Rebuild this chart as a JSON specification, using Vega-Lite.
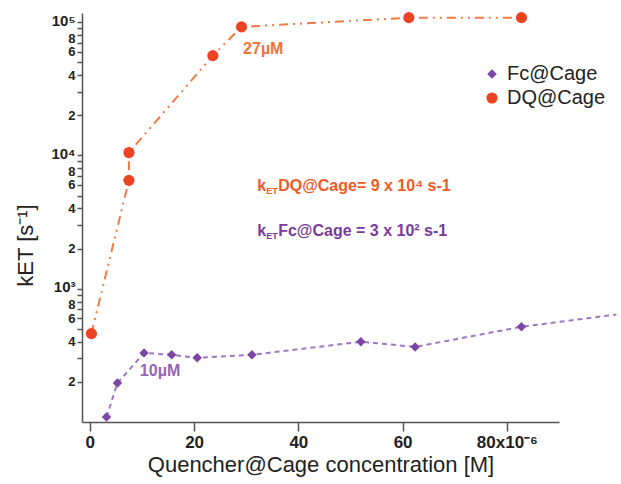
{
  "$schema": "https://vega.github.io/schema/vega-lite/v6.json",
  "width": 477,
  "height": 409,
  "autosize": {"type": "none"},
  "padding": {"left": 82, "top": 13, "right": 62, "bottom": 62},
  "background": "white",
  "config": {
    "view": {"stroke": null},
    "font": "Liberation Sans",
    "axis": {"grid": false, "domainColor": "#555555", "domainWidth": 1.5, "tickColor": "#555555", "tickWidth": 1.5, "labelColor": "#222222", "titleColor": "#222222", "labelFont": "Liberation Sans", "titleFont": "Liberation Sans"}
  },
  "datasets": {
    "pts": [
      {"series": "DQ@Cage", "x": 0.3, "k": 460, "m": 1},
      {"series": "DQ@Cage", "x": 7.5, "k": 6500, "m": 1},
      {"series": "DQ@Cage", "x": 7.5, "k": 10500, "m": 1},
      {"series": "DQ@Cage", "x": 23.6, "k": 56000, "m": 1},
      {"series": "DQ@Cage", "x": 29.1, "k": 92000, "m": 1},
      {"series": "DQ@Cage", "x": 61.2, "k": 108000, "m": 1},
      {"series": "DQ@Cage", "x": 82.8, "k": 108000, "m": 1},
      {"series": "Fc@Cage", "x": 3.2, "k": 109, "m": 1},
      {"series": "Fc@Cage", "x": 5.3, "k": 196, "m": 1},
      {"series": "Fc@Cage", "x": 10.4, "k": 330, "m": 1},
      {"series": "Fc@Cage", "x": 15.7, "k": 319, "m": 1},
      {"series": "Fc@Cage", "x": 20.6, "k": 303, "m": 1},
      {"series": "Fc@Cage", "x": 31.1, "k": 319, "m": 1},
      {"series": "Fc@Cage", "x": 52.0, "k": 400, "m": 1},
      {"series": "Fc@Cage", "x": 62.4, "k": 366, "m": 1},
      {"series": "Fc@Cage", "x": 82.8, "k": 518, "m": 1},
      {"series": "Fc@Cage", "x": 101, "k": 640, "m": 0}
    ],
    "notes": [
      {"series": "DQ@Cage", "x": 29.4, "k": 62700, "text": "27µM"},
      {"series": "Fc@Cage", "x": 9.6, "k": 242, "text": "10µM"}
    ],
    "rates": [
      {"series": "DQ@Cage", "x": 32.1, "k": 5850, "text": "DQ@Cage= 9 x 10⁴ s-1"},
      {"series": "Fc@Cage", "x": 32.1, "k": 2730, "text": "Fc@Cage = 3 x 10² s-1"}
    ]
  },
  "encoding": {
    "x": {"field": "x", "type": "quantitative",
      "scale": {"domain": [-1.5, 90], "nice": false, "zero": false},
      "axis": {"values": [0, 20, 40, 60, 80], "labelExpr": "datum.value == 80 ? '80x10⁻⁶' : datum.label", "tickSize": 9, "labelPadding": 3, "labelFontSize": 17, "labelFontWeight": "bold", "title": "Quencher@Cage concentration [M]", "titleFontSize": 22, "titleFontWeight": "normal", "titlePadding": 4}},
    "y": {"field": "k", "type": "quantitative",
      "scale": {"type": "log", "domain": [100, 117000], "nice": false},
      "axis": {"values": [200, 300, 400, 500, 600, 700, 800, 900, 1000, 2000, 3000, 4000, 5000, 6000, 7000, 8000, 9000, 10000, 20000, 30000, 40000, 50000, 60000, 70000, 80000, 90000, 100000],
        "labelExpr": "datum.value == 100000 ? '10⁵' : datum.value == 10000 ? '10⁴' : datum.value == 1000 ? '10³' : (round(datum.value / pow(10, floor(log(datum.value) / LN10 + 1e-6))) % 2 == 0 ? '' + round(datum.value / pow(10, floor(log(datum.value) / LN10 + 1e-6))) : '')",
        "tickSize": 5, "labelPadding": 2,
        "labelFontSize": {"condition": {"test": "datum.value == 100000 || datum.value == 10000 || datum.value == 1000", "value": 15}, "value": 13},
        "labelOffset": {"condition": [
          {"test": "datum.value == 100000 || datum.value == 10000 || datum.value == 1000", "value": -2},
          {"test": "round(datum.value / pow(10, floor(log(datum.value) / LN10 + 1e-6))) == 8", "value": 3}
        ], "value": 0},
        "labelFontWeight": "bold", "labelOverlap": false, "labelFlush": false,
        "title": "kET [s⁻¹]", "titleFontSize": 22, "titleFontWeight": "normal", "titleX": -45, "titleY": 232}}
  },
  "layer": [
    {
      "data": {"name": "pts"},
      "transform": [{"filter": "datum.series == 'DQ@Cage'"}],
      "mark": {"type": "line", "clip": false, "color": "#f27a45", "strokeWidth": 2, "strokeDash": [9, 5, 2, 5, 2, 5]},
      "encoding": {}
    },
    {
      "data": {"name": "pts"},
      "transform": [{"filter": "datum.series == 'Fc@Cage'"}],
      "mark": {"type": "line", "clip": false, "color": "#9e78c4", "strokeWidth": 2, "strokeDash": [5, 4]},
      "encoding": {}
    },
    {
      "data": {"name": "pts"},
      "transform": [{"filter": "datum.m == 1"}],
      "mark": {"type": "point", "filled": true, "opacity": 1, "clip": false},
      "encoding": {
        "color": {"field": "series", "type": "nominal",
          "scale": {"domain": ["Fc@Cage", "DQ@Cage"], "range": ["#7d45a6", "#ee4322"]},
          "legend": {"title": null, "orient": "none", "legendX": 400, "legendY": 51, "padding": 0, "labelFontSize": 20, "labelFont": "Liberation Sans", "labelColor": "#222222", "labelOffset": 5, "rowPadding": 4, "symbolSize": 110, "symbolStrokeWidth": 0}},
        "shape": {"field": "series", "type": "nominal",
          "scale": {"domain": ["Fc@Cage", "DQ@Cage"], "range": ["diamond", "circle"]}},
        "size": {"field": "series", "type": "nominal",
          "scale": {"domain": ["Fc@Cage", "DQ@Cage"], "range": [90, 125]}, "legend": null}
      }
    },
    {
      "data": {"name": "notes"},
      "mark": {"type": "text", "align": "left", "baseline": "middle", "fontSize": 16, "fontWeight": "bold", "font": "Liberation Sans"},
      "encoding": {
        "text": {"field": "text"},
        "color": {"condition": {"test": "datum.series == 'DQ@Cage'", "value": "#f0743a"}, "value": "#9565b8"}
      }
    },
    {
      "data": {"name": "rates"},
      "mark": {"type": "text", "align": "left", "baseline": "middle", "fontSize": 16, "fontWeight": "bold", "font": "Liberation Sans"},
      "encoding": {
        "text": {"value": "k"},
        "color": {"condition": {"test": "datum.series == 'DQ@Cage'", "value": "#f05a28"}, "value": "#7b3b9c"}
      }
    },
    {
      "data": {"name": "rates"},
      "mark": {"type": "text", "align": "left", "baseline": "middle", "fontSize": 9, "fontWeight": "bold", "font": "Liberation Sans", "dx": 9, "dy": 5},
      "encoding": {
        "text": {"value": "ET"},
        "color": {"condition": {"test": "datum.series == 'DQ@Cage'", "value": "#f05a28"}, "value": "#7b3b9c"}
      }
    },
    {
      "data": {"name": "rates"},
      "mark": {"type": "text", "align": "left", "baseline": "middle", "fontSize": 16, "fontWeight": "bold", "font": "Liberation Sans", "dx": 21},
      "encoding": {
        "text": {"field": "text"},
        "color": {"condition": {"test": "datum.series == 'DQ@Cage'", "value": "#f05a28"}, "value": "#7b3b9c"}
      }
    }
  ]
}
